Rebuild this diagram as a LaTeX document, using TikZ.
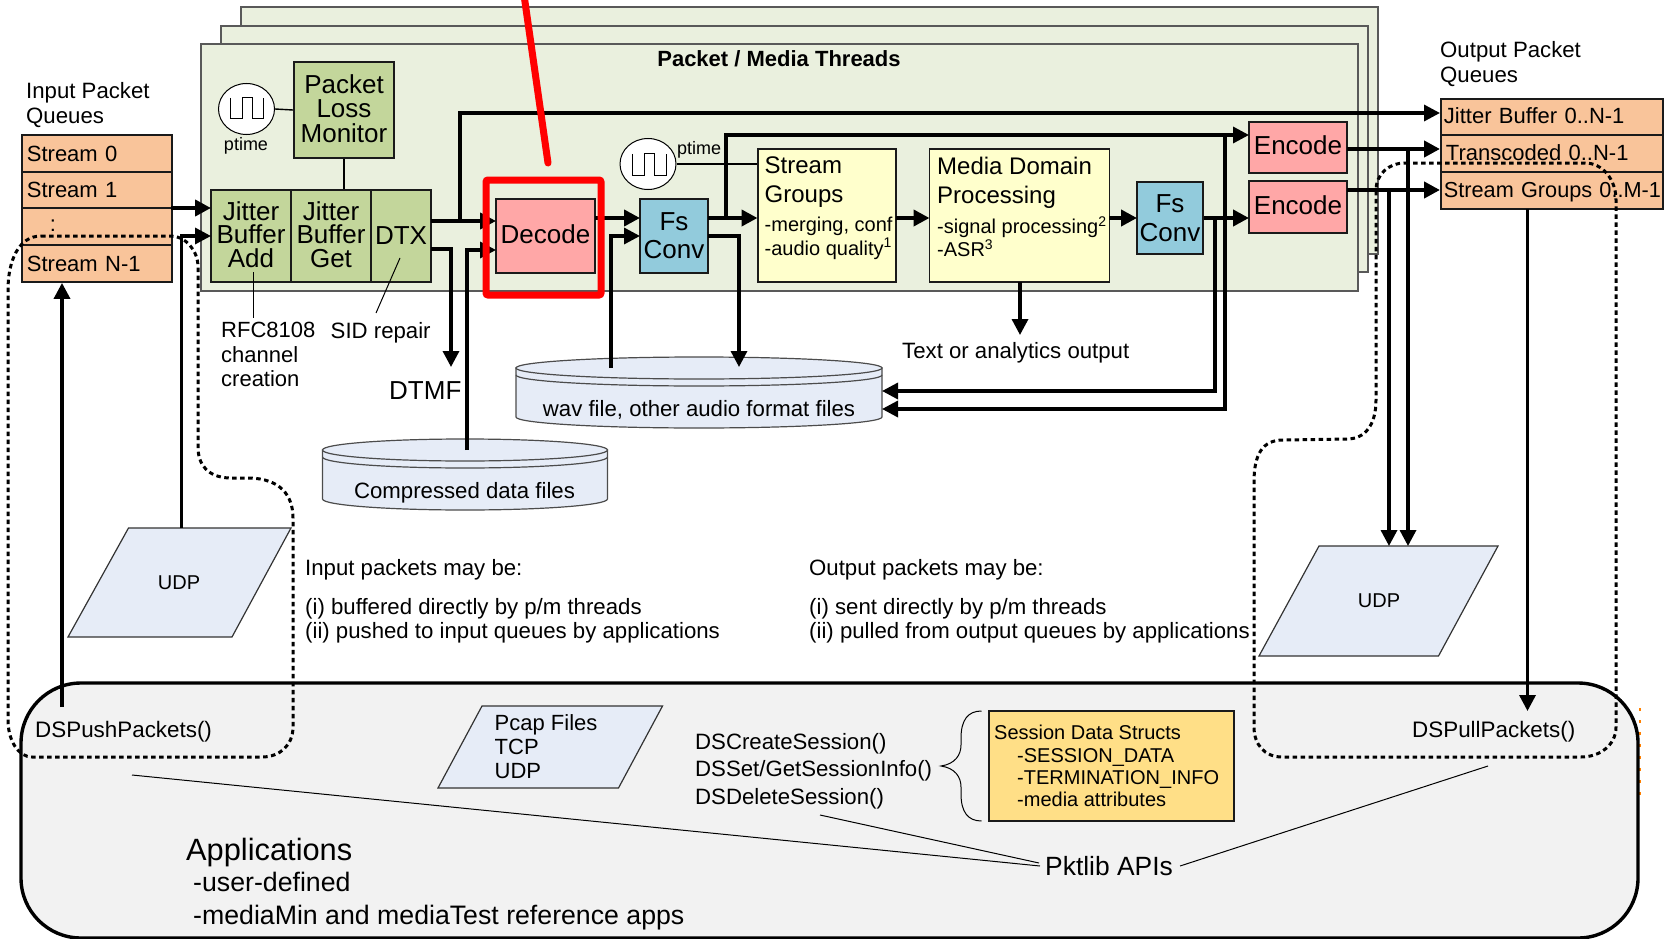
\documentclass[tikz,border=0pt]{standalone}
\usepackage{fontspec}
\setmainfont{Liberation Sans}
\usetikzlibrary{arrows.meta,calc,shapes.geometric}
\definecolor{panelc}{HTML}{EAF0DE}
\definecolor{greenc}{HTML}{C3D69B}
\definecolor{pinkc}{HTML}{FFA7A7}
\definecolor{bluec}{HTML}{92CBDC}
\definecolor{yellowc}{HTML}{FFFFCC}
\definecolor{goldc}{HTML}{FFDF87}
\definecolor{queuec}{HTML}{F9C49A}
\definecolor{udpc}{HTML}{E6ECF7}
\definecolor{appc}{HTML}{F2F2F2}
\definecolor{edgec}{HTML}{1A1A1A}
\tikzset{
  panel/.style={draw=black!65,fill=panelc,line width=1.2pt},
  boxa/.style={draw=edgec,line width=1.8pt,inner sep=0pt,align=center,
    font=\fontsize{26}{23.5}\selectfont},
  txta/.style={inner sep=0pt,anchor=west,align=left,font=\fontsize{22.2}{25}\selectfont},
  txtb/.style={inner sep=0pt,anchor=west,align=left,font=\fontsize{24}{29}\selectfont},
  txtc/.style={inner sep=0pt,anchor=west,align=left,font=\fontsize{20}{23.5}\selectfont},
  queuerow/.style={draw=edgec,fill=queuec,line width=1.8pt,anchor=west,inner ysep=0pt,
    inner xsep=5pt,align=left,font=\fontsize{22}{25}\selectfont},
  flow/.style={draw=black,line width=3.4pt,-{Triangle[length=16pt,width=16pt]}},
  flowb/.style={flow,line width=4.2pt},
  leader/.style={draw=black,line width=1pt},
  dashloop/.style={draw=black,line width=3pt,dash pattern=on 4.5pt off 3.5pt},
  drum/.style={draw=black!70,fill=udpc,line width=1.2pt},
  udp/.style={draw=black!80,fill=udpc,line width=1.2pt},
  ptimec/.style={draw=black,fill=white,line width=1pt,ellipse,minimum width=56pt,minimum height=51pt,inner sep=0pt}
}
\begin{document}
\begin{tikzpicture}[x=1pt,y=-1pt]
\useasboundingbox (0,0) rectangle (1665,939);
\filldraw [panel] (241,7) rectangle (1378,254);
\filldraw [panel] (221,26) rectangle (1368,272);
\filldraw [panel] (201,44) rectangle (1358,291);
\node [inner sep=0pt,font=\bfseries\fontsize{22}{25}\selectfont] (threads) at (779,59) {Packet / Media Threads};

% applications
\draw [draw=orange,line width=1.5pt,dash pattern=on 3pt off 9pt] (1640,708) -- (1640,797);
\filldraw [draw=black,fill=appc,line width=3.4pt,rounded corners=60pt] (21,683) rectangle (1638,938);

% input queues
\node [txta] (inlabel) at (26,105) {Input Packet\\Queues};
\node [queuerow,text width=140pt,minimum height=37pt] (in0) at (21,153.5) {Stream 0};
\node [queuerow,text width=140pt,minimum height=36pt] (in1) at (21,190) {Stream 1};
\node [queuerow,text width=140pt,minimum height=37pt] (in2) at (21,226.5) {};
\node [queuerow,text width=140pt,minimum height=37pt] (in3) at (21,263.5) {Stream N-1};
\node [inner sep=0pt,font=\fontsize{22}{25}\selectfont] (indots) at (53,226) {:};

% output queues
\node [txta] (outlabel) at (1440,64) {Output Packet\\Queues};
\node [queuerow,inner xsep=3pt,text depth=2pt,text width=216pt,minimum height=36pt] (out0) at (1440,117) {Jitter Buffer 0..N-1};
\node [queuerow,inner xsep=3pt,text depth=2pt,text width=216pt,minimum height=37pt] (out1) at (1440,153.5) {\hspace{2pt}Transcoded 0..N-1};
\node [queuerow,inner xsep=3pt,text depth=2pt,text width=216pt,minimum height=37pt,font=\fontsize{21.7}{25}\selectfont] (out2) at (1440,190.5) {\mbox{Stream Groups 0..M-1}};

% ptime and packet loss
\node [ptimec] (clocka) at (246.5,109) {};
\draw [line width=1pt] (230,98) -- (230,119) -- (242,119) -- (242,98) -- (252,98) -- (252,119) -- (263,119) -- (263,98);
\node [inner sep=0pt,font=\fontsize{18}{20}\selectfont] (ptimea) at (246,146) {ptime};
\node [boxa,fill=greenc,minimum width=100pt,minimum height=96pt,text depth=3pt,font=\fontsize{26}{24.5}\selectfont] (plm) at (344,110) {Packet\\Loss\\Monitor};
\node [boxa,fill=greenc,minimum width=80pt,minimum height=92pt,text depth=3pt] (jbadd) at (251,236) {Jitter\\Buffer\\Add};
\node [boxa,fill=greenc,minimum width=80pt,minimum height=92pt,text depth=3pt] (jbget) at (331,236) {Jitter\\Buffer\\Get};
\node [boxa,fill=greenc,minimum width=60pt,minimum height=92pt] (dtx) at (401,236) {DTX};
\draw [line width=1.4pt] (clocka.east) -- (plm.west);
\draw [line width=1.8pt] (plm.south) -- (plm.south |- jbget.north);

% leaders under the buffers
\coordinate (rfctop) at (253,272);
\coordinate (rfcend) at (253,318);
\coordinate (sidtop) at (400,258);
\coordinate (sidend) at (376,313);
\draw [leader] (rfctop) -- (rfcend);
\draw [leader] (sidtop) -- (sidend);
\node [txta,font=\fontsize{22}{24.5}\selectfont] (rfc) at (221,354.5) {RFC8108\\channel\\creation};
\node [txta] (sid) at (330.5,333) {SID repair};
\node [txta,font=\fontsize{26}{28}\selectfont] (dtmf) at (389,391) {DTMF};

% media blocks
\node [boxa,fill=pinkc,minimum width=99pt,minimum height=74pt,text depth=3pt] (decode) at (545.5,236) {Decode};
\node [boxa,fill=bluec,minimum width=68pt,minimum height=74pt,font=\fontsize{26}{28}\selectfont] (fsa) at (674,236) {Fs\\Conv};
\node [boxa,fill=yellowc,minimum width=138pt,minimum height=133pt] (sgroups) at (827,215.5) {};
\node [boxa,fill=yellowc,minimum width=180pt,minimum height=133pt] (mdp) at (1019.5,215.5) {};
\node [boxa,fill=bluec,minimum width=66pt,minimum height=72pt,font=\fontsize{26}{29}\selectfont] (fsb) at (1170,218) {Fs\\Conv};
\node [boxa,fill=pinkc,minimum width=98pt,minimum height=51pt,text depth=4pt] (enca) at (1298,147.5) {Encode};
\node [boxa,fill=pinkc,minimum width=98pt,minimum height=52pt,text depth=4pt] (encb) at (1298,207) {Encode};
\node [txtb] (sgtitle) at (764.5,182.5) {Stream\\Groups};
\node [txtc] (sgitems) at (764.5,238.5) {-merging, conf\\-audio quality\textsuperscript{1}};
\node [txtb] (mdptitle) at (937,182.5) {Media Domain\\Processing};
\node [txtc,font=\fontsize{20}{23}\selectfont] (mdpitems) at (937,236.5) {-signal processing\textsuperscript{2}\\-ASR\textsuperscript{3}};

\node [ptimec] (clockb) at (648,164) {};
\draw [line width=1pt] (632,154) -- (632,175) -- (644,175) -- (644,154) -- (654,154) -- (654,175) -- (666,175) -- (666,154);
\node [txta,font=\fontsize{18}{20}\selectfont] (ptimeb) at (677,150) {ptime};
\draw [line width=1.4pt] (clockb.east) -- (clockb.east -| sgroups.west);

% storage
\filldraw [drum] (516,368) -- (516,417) arc [start angle=180,end angle=0,x radius=183,y radius=11] -- (882,368) -- cycle;
\filldraw [drum] (699,368) ellipse [x radius=183,y radius=11];
\draw [drum,fill=none] (516,375) arc [start angle=180,end angle=0,x radius=183,y radius=11];
\node [inner sep=0pt,font=\fontsize{22.2}{25}\selectfont] (wavtxt) at (699,410) {wav file, other audio format files};
\filldraw [drum] (322.5,450) -- (322.5,499) arc [start angle=180,end angle=0,x radius=142.5,y radius=11] -- (607.5,450) -- cycle;
\filldraw [drum] (465,450) ellipse [x radius=142.5,y radius=11];
\draw [drum,fill=none] (322.5,457) arc [start angle=180,end angle=0,x radius=142.5,y radius=11];
\node [inner sep=0pt,font=\fontsize{22.2}{25}\selectfont] (comptxt) at (464.5,493) {Compressed data files};

% parallelograms
\filldraw [udp] (128.5,528) -- (291,528) -- (232,637) -- (68,637) -- cycle;
\node [inner sep=0pt,font=\fontsize{20}{22}\selectfont] (udpin) at (179,583) {UDP};
\filldraw [udp] (1319,546) -- (1498,546) -- (1438.5,656) -- (1259,656) -- cycle;
\node [inner sep=0pt,font=\fontsize{20}{22}\selectfont] (udpout) at (1379,601) {UDP};
\filldraw [udp] (482,706) -- (662.5,706) -- (618.5,788) -- (438,788) -- cycle;
\node [txta,font=\fontsize{22}{24}\selectfont] (pcap) at (494.5,747) {Pcap Files\\TCP\\UDP};

% notes
\node [txta] (innote) at (305,570) {Input packets may be:};
\node [txta,font=\fontsize{22.2}{24}\selectfont] (inlist) at (305,620.5) {(i) buffered directly by p/m threads\\(ii) pushed to input queues by applications};
\node [txta] (outnote) at (809,570) {Output packets may be:};
\node [txta,font=\fontsize{22.2}{24}\selectfont] (outlist) at (809,620.5) {(i) sent directly by p/m threads\\(ii) pulled from output queues by applications};
\node [txta] (textout) at (902,353) {Text or analytics output};

% application text
\node [txta,font=\fontsize{22.4}{25}\selectfont] (dspush) at (35,732) {DSPushPackets()};
\node [txta,font=\fontsize{22.4}{25}\selectfont] (dspull) at (1412,732) {DSPullPackets()};
\node [txta,font=\fontsize{22.2}{27.5}\selectfont] (dsapi) at (695,771) {DSCreateSession()\\DSSet/GetSessionInfo()\\DSDeleteSession()};
\node [draw=edgec,fill=goldc,line width=1.8pt,minimum width=245pt,minimum height=110pt] (session) at (1111.5,766) {};
\node [txtc] (sesstitle) at (994,732) {Session Data Structs};
\node [txtc,font=\fontsize{20}{22}\selectfont] (sessitems) at (1017,778) {-SESSION\_DATA\\-TERMINATION\_INFO\\-media attributes};
\draw [line width=1pt] (981.5,711) .. controls (968,711) and (961,720) .. (961,738) -- (961,745) .. controls (961,755) and (955,764) .. (941,766) .. controls (955,768) and (961,777) .. (961,787) -- (961,794) .. controls (961,812) and (968,821) .. (981.5,821);
\node [txta,font=\fontsize{30.8}{32}\selectfont] (apps) at (186,853) {Applications};
\node [txta,font=\fontsize{26.7}{33}\selectfont] (appitems) at (193,901.5) {-user-defined\\-mediaMin and mediaTest reference apps};
\node [txta,font=\fontsize{26.4}{28}\selectfont] (pktlib) at (1045,866) {Pktlib APIs};
\coordinate (pkta) at (132,775);
\coordinate (pktb) at (820,815);
\coordinate (pktc) at (1488,766);
\draw [leader] (pkta) -- ($(pktlib.west)+(-5,0)$);
\draw [leader] (pktb) -- ($(pktlib.west)+(-6,-3)$);
\draw [leader] (pktc) -- ($(pktlib.east)+(7,0)$);

% connectors
\coordinate (in1out) at (171,208);
\coordinate (jbin1) at (211,208);
\coordinate (jbin2) at (211,236);
\coordinate (udpintop) at (181.5,528);
\coordinate (udpinbend) at (181.5,236);
\coordinate (pushstart) at (62,707);
\coordinate (dtxout1) at (431,221);
\coordinate (dtxout2) at (431,249);
\coordinate (decin1) at (496,221);
\coordinate (decin2) at (496,250);
\coordinate (compin) at (467,450);
\coordinate (compbend) at (467,250);
\coordinate (dtmfbend) at (451,249);
\coordinate (dtmfend) at (451,367);
\coordinate (outbranch) at (460,221);
\coordinate (outbend) at (460,113);
\coordinate (jitterq) at (1440,113);
\draw [flowb] (in1out) -- (jbin1);
\draw [flow] (udpintop) -- (udpinbend) -- (jbin2);
\draw [flow] (pushstart) -- (in3.south -| pushstart);
\draw [flowb] (dtxout1) -- (decin1);
\draw [flow] (dtxout2) -- (dtmfbend) -- (dtmfend);
\draw [flow] (compin) -- (compbend) -- (decin2);
\draw [flow] (outbranch) -- (outbend) -- (jitterq);

\coordinate (decout) at (595,218);
\coordinate (fsin1) at (640,218);
\coordinate (fsin2) at (640,236);
\coordinate (wavout) at (611,368);
\coordinate (wavbend) at (611,236);
\coordinate (fsout1) at (708,218);
\coordinate (sgin) at (757.5,218);
\coordinate (fsout2) at (708,236);
\coordinate (wavinbend) at (739,236);
\coordinate (wavin) at (739,367);
\coordinate (encbranch) at (726,218);
\coordinate (encbend) at (726,135);
\coordinate (encain) at (1249,135);
\draw [flowb] (decout) -- (fsin1);
\draw [flow] (wavout) -- (wavbend) -- (fsin2);
\draw [flowb] (fsout1) -- (sgin);
\draw [flow] (fsout2) -- (wavinbend) -- (wavin);
\draw [flow] (encbranch) -- (encbend) -- (encain);

\coordinate (sgout) at (896,218);
\coordinate (mdpin) at (929.5,218);
\coordinate (mdpout) at (1109,218);
\coordinate (fsbin) at (1137,218);
\coordinate (encbin) at (1249,218);
\coordinate (mdptext) at (1020,282);
\coordinate (textend) at (1020,335);
\draw [flowb] (sgout) -- (mdpin);
\draw [flowb] (mdpout) -- (fsbin);
\draw [flowb] (fsb.east |- encbin) -- (encbin);
\draw [flow] (mdptext) -- (textend);

\coordinate (wavr1) at (882,391);
\coordinate (wavr2) at (882,409);
\coordinate (brancha) at (1215,218);
\coordinate (branchb) at (1225,135);
\draw [flow] (brancha) -- (brancha |- wavr1) -- (wavr1);
\draw [flow] (branchb) -- (branchb |- wavr2) -- (wavr2);

\coordinate (encaout) at (1347,149);
\coordinate (encbout) at (1347,190);
\coordinate (qin1) at (1440,149);
\coordinate (qin2) at (1440,190);
\coordinate (udpa) at (1408,149);
\coordinate (udpb) at (1389,190);
\coordinate (udpaend) at (1408,546);
\coordinate (udpbend) at (1389,546);
\draw [flowb] (encaout) -- (qin1);
\draw [flowb] (encbout) -- (qin2);
\draw [flow] (udpa) -- (udpaend);
\draw [flow] (udpb) -- (udpbend);
\coordinate (pullstart) at (1527.5,209);
\coordinate (pullend) at (1527.5,711);
\draw [flow] (pullstart) -- (pullend);

% dashed loops
\draw [dashloop] (41,236) -- (171,236) .. controls (185,236) and (198,250) .. (198,267) -- (198,447) .. controls (198,465) and (208,477) .. (229,478) -- (250,478) .. controls (280,479) and (293,495) .. (293,518) -- (293,727) .. controls (293,745) and (280,757) .. (262,757) -- (32,757) .. controls (18,757) and (8,740) .. (8,720) -- (8,290) .. controls (8,262) and (18,236) .. (41,236) -- cycle;
\draw [dashloop] (1405,163) -- (1585,163) .. controls (1603,163) and (1616,180) .. (1616,200) -- (1616,727) .. controls (1616,745) and (1600,757) .. (1581,757) -- (1282,757) .. controls (1265,757) and (1254,745) .. (1254,727) -- (1254,482) .. controls (1254,455) and (1262,440) .. (1283,440) -- (1347,439) .. controls (1365,439) and (1376,425) .. (1376,400) -- (1376,190) .. controls (1376,175) and (1388,163) .. (1405,163) -- cycle;

% red marker
\node [draw=red,line width=7pt,rounded corners=2pt,minimum width=115pt,minimum height=115pt] (redframe) at (543.5,237.5) {};
\coordinate (redtop) at (524,-5);
\coordinate (redtip) at (548,163);
\draw [red,line width=7pt,line cap=round] (redtop) -- (redtip);
\end{tikzpicture}
\end{document}
